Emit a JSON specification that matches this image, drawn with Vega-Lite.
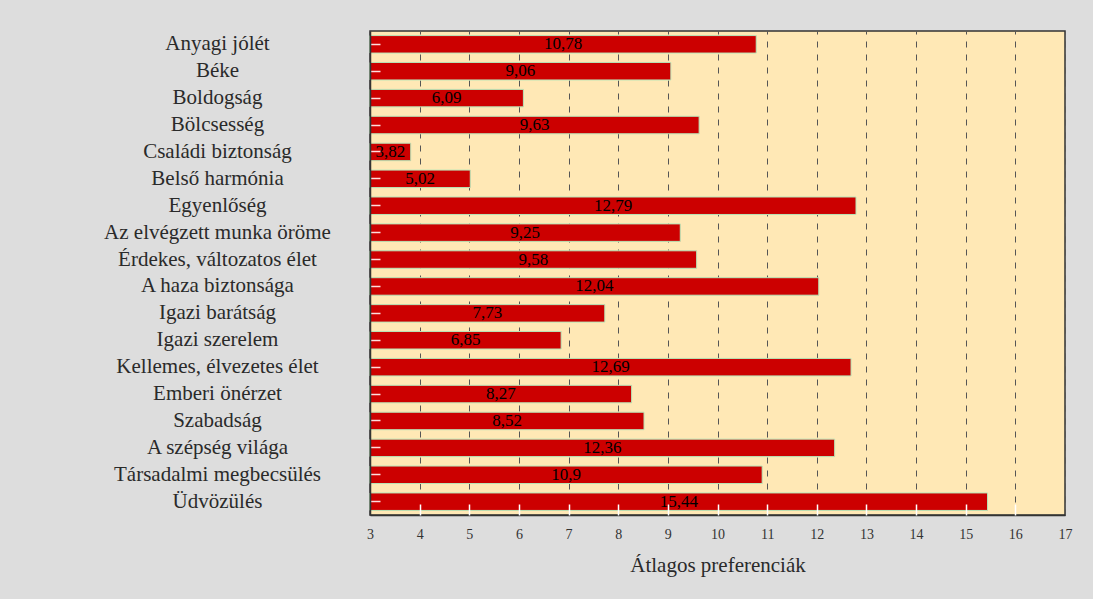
{
  "$schema": "https://vega.github.io/schema/vega-lite/v6.json",
  "width": 695,
  "height": 484,
  "autosize": {"type": "none"},
  "padding": {"left": 370, "top": 31, "right": 28, "bottom": 84},
  "background": "#dddddd",
  "config": {
    "view": {"fill": "#ffe8b5", "stroke": "#333333", "strokeWidth": 1.5},
    "font": "Liberation Serif"
  },
  "data": {
    "values": [
      {"ertek": "Anyagi jólét", "atlag": 10.78, "cimke": "10,78"},
      {"ertek": "Béke", "atlag": 9.06, "cimke": "9,06"},
      {"ertek": "Boldogság", "atlag": 6.09, "cimke": "6,09"},
      {"ertek": "Bölcsesség", "atlag": 9.63, "cimke": "9,63"},
      {"ertek": "Családi biztonság", "atlag": 3.82, "cimke": "3,82"},
      {"ertek": "Belső harmónia", "atlag": 5.02, "cimke": "5,02"},
      {"ertek": "Egyenlőség", "atlag": 12.79, "cimke": "12,79"},
      {"ertek": "Az elvégzett munka öröme", "atlag": 9.25, "cimke": "9,25"},
      {"ertek": "Érdekes, változatos élet", "atlag": 9.58, "cimke": "9,58"},
      {"ertek": "A haza biztonsága", "atlag": 12.04, "cimke": "12,04"},
      {"ertek": "Igazi barátság", "atlag": 7.73, "cimke": "7,73"},
      {"ertek": "Igazi szerelem", "atlag": 6.85, "cimke": "6,85"},
      {"ertek": "Kellemes, élvezetes élet", "atlag": 12.69, "cimke": "12,69"},
      {"ertek": "Emberi önérzet", "atlag": 8.27, "cimke": "8,27"},
      {"ertek": "Szabadság", "atlag": 8.52, "cimke": "8,52"},
      {"ertek": "A szépség világa", "atlag": 12.36, "cimke": "12,36"},
      {"ertek": "Társadalmi megbecsülés", "atlag": 10.9, "cimke": "10,9"},
      {"ertek": "Üdvözülés", "atlag": 15.44, "cimke": "15,44"}
    ]
  },
  "transform": [{"calculate": "(3 + datum.atlag) / 2", "as": "kozep"}],
  "encoding": {
    "y": {
      "field": "ertek",
      "type": "nominal",
      "sort": null,
      "scale": {"paddingInner": 0.35, "paddingOuter": 0.17},
      "axis": {
        "title": null,
        "labelFont": "Liberation Serif",
        "labelFontSize": 21,
        "labelColor": "#2a2a2a",
        "labelAlign": "center",
        "labelBaseline": "middle",
        "labelPadding": 163,
        "labelLimit": 400,
        "ticks": true,
        "tickSize": -10,
        "tickColor": "#ffdddd",
        "tickWidth": 1.5,
        "domain": true,
        "domainColor": "#333333",
        "domainWidth": 1.5,
        "zindex": 1
      }
    }
  },
  "layer": [
    {
      "mark": {"type": "bar", "color": "#cc0000", "stroke": "#b8e6b8", "strokeWidth": 1},
      "encoding": {
        "x": {
          "field": "atlag",
          "type": "quantitative",
          "scale": {"domain": [3, 17], "zero": false, "nice": false},
          "axis": {
            "orient": "bottom",
            "offset": 0,
            "title": null,
            "labels": false,
            "domain": false,
            "grid": false,
            "ticks": true,
            "tickSize": -11,
            "tickColor": "#ffffff",
            "tickWidth": 1.5,
            "values": [4, 5, 6, 7, 8, 9, 10, 11, 12, 13, 14, 15, 16],
            "zindex": 1
          }
        },
        "x2": {"datum": 3}
      }
    },
    {
      "mark": {"type": "text", "font": "Liberation Serif", "fontSize": 17, "color": "#000000", "align": "center", "baseline": "middle"},
      "encoding": {
        "x": {
          "field": "kozep",
          "type": "quantitative",
          "axis": {
            "orient": "bottom",
            "offset": 0,
            "title": "Átlagos preferenciák",
            "titleFont": "Liberation Serif",
            "titleFontSize": 21,
            "titleFontWeight": "normal",
            "titleColor": "#2a2a2a",
            "titlePadding": 13,
            "values": [3, 4, 5, 6, 7, 8, 9, 10, 11, 12, 13, 14, 15, 16, 17],
            "labelFont": "Liberation Serif",
            "labelFontSize": 14,
            "labelColor": "#333333",
            "labelPadding": 12,
            "labelFlush": false,
            "ticks": false,
            "domain": true,
            "domainColor": "#333333",
            "domainWidth": 1.5,
            "grid": true,
            "gridColor": "#555555",
            "gridDash": [6, 7],
            "gridWidth": 1,
            "zindex": 0
          }
        },
        "text": {"field": "cimke", "type": "nominal"}
      }
    }
  ],
  "resolve": {"axis": {"x": "independent"}, "scale": {"x": "shared"}}
}
